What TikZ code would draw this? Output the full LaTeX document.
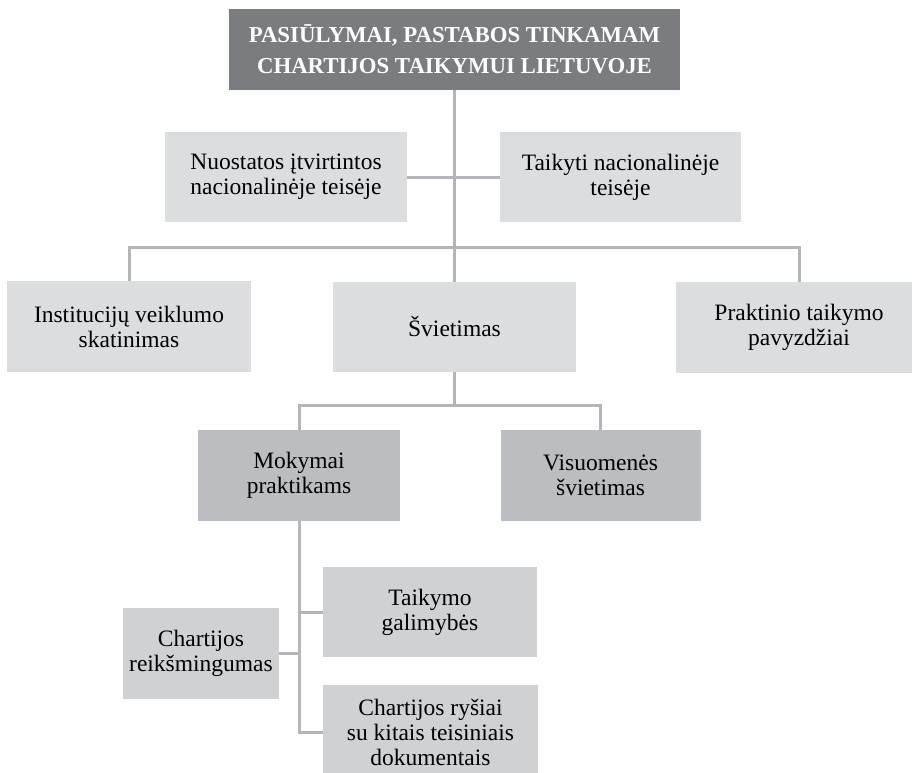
\documentclass[tikz,border=0pt]{standalone}
\usepackage{fontspec}
\setmainfont{Liberation Serif}
\definecolor{headgray}{HTML}{7B7C80}
\definecolor{midgray}{HTML}{BCBDC0}
\definecolor{softgray}{HTML}{D0D1D3}
\definecolor{lightgray}{HTML}{DCDDDF}
\definecolor{linegray}{HTML}{B4B5B8}

\begin{document}
\begin{tikzpicture}[x=1pt,y=-1pt,
  box/.style={fill=lightgray, align=center, inner sep=0pt,
    font=\fontsize{23.5}{25}\selectfont},
  conn/.style={draw=linegray, line width=3pt}]
\useasboundingbox (0,0) rectangle (912,772);
\node [box, fill=headgray, text=white, minimum width=451, minimum height=81,
  font=\bfseries\fontsize{22.8}{31}\selectfont] (head) at (454.5,49.5)
  {PASIŪLYMAI, PASTABOS TINKAMAM\\CHARTIJOS TAIKYMUI LIETUVOJE};
\node [box, minimum width=242, minimum height=90] (nuo) at (286,177)
  {Nuostatos įtvirtintos\\nacionalinėje teisėje};
\node [box, minimum width=241, minimum height=90] (tai) at (620.5,177)
  {Taikyti nacionalinėje\\teisėje};
\node [box, minimum width=244, minimum height=91] (inst) at (129,326.5)
  {Institucijų veiklumo\\skatinimas};
\node [box, minimum width=243, minimum height=90] (svi) at (454.5,327)
  {Švietimas};
\node [box, minimum width=246, minimum height=91] (prak) at (799,327.5)
  {Praktinio taikymo\\pavyzdžiai};
\node [box, fill=midgray, minimum width=202, minimum height=91] (mok) at (299,475.5)
  {Mokymai\\praktikams};
\node [box, fill=midgray, minimum width=200, minimum height=91] (vis) at (600.5,475.5)
  {Visuomenės\\švietimas};
\node [box, fill=softgray, minimum width=156, minimum height=91] (rei) at (201,653.5)
  {Chartijos\\reikšmingumas};
\node [box, fill=softgray, minimum width=214, minimum height=90] (tag) at (430,612)
  {Taikymo\\galimybės};
\node [box, fill=softgray, minimum width=215, minimum height=94] (rys) at (430.5,732)
  {Chartijos ryšiai\\su kitais teisiniais\\dokumentais};
\coordinate (hub1) at (454.5,247);
\coordinate (hub2) at (454.5,405);
\coordinate (hub3) at (mok.south |- rys.west);
\draw [conn] (head.south) -- (svi.north);
\draw [conn] (nuo.east) -- (tai.west);
\draw [conn] (inst.north) |- (hub1) -| (prak.north);
\draw [conn] (svi.south) -- (hub2);
\draw [conn] (mok.north) |- (hub2) -| (vis.north);
\draw [conn] (mok.south) -- (hub3) -- (rys.west);
\draw [conn] (rei.east) -- (rei.east -| hub3);
\draw [conn] (tag.west) -- (tag.west -| hub3);
\end{tikzpicture}
\end{document}
